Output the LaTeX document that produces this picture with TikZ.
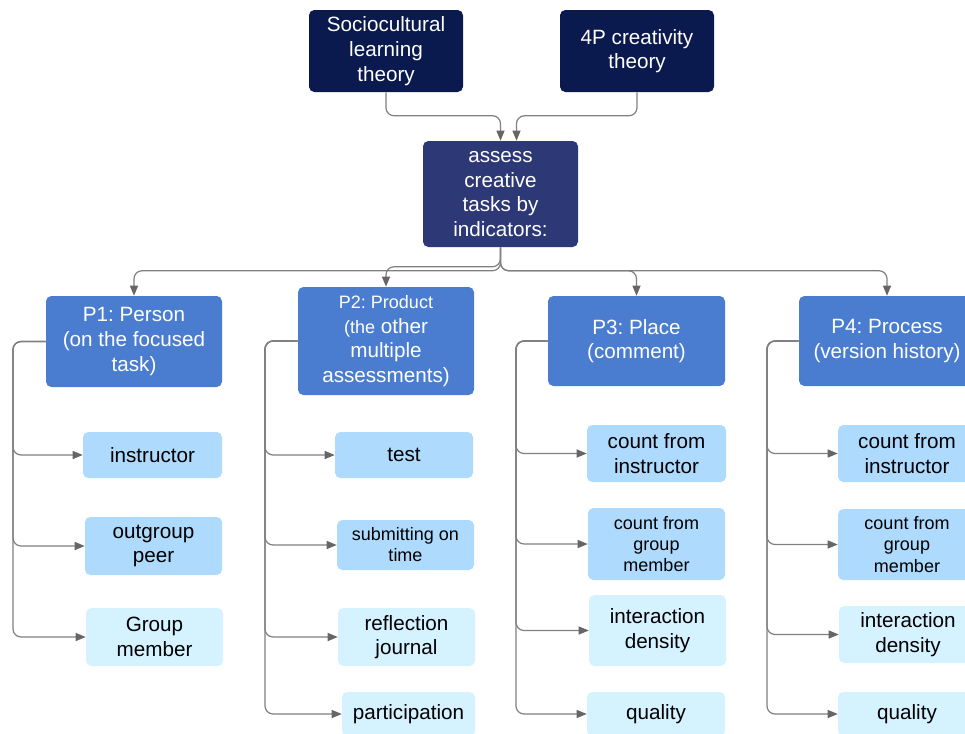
\documentclass[tikz,border=0pt]{standalone}
\usepackage{fontspec}
\setmainfont{Liberation Sans}
\frenchspacing
\usetikzlibrary{arrows.meta}
\definecolor{navy}{HTML}{0B1A4E}
\definecolor{assessc}{HTML}{2D3877}
\definecolor{pblue}{HTML}{4A7DCF}
\definecolor{lblue}{HTML}{ADDAFD}
\definecolor{pale}{HTML}{D4F2FF}
\definecolor{lineg}{HTML}{808080}
\definecolor{tipg}{HTML}{666666}
\tikzset{
  sz/.style 2 args={minimum width=#1*0.75pt, minimum height=#2*0.75pt},
  box/.style={rounded corners=4pt, align=center, inner sep=0pt,
    font=\fontsize{15.5}{18.5}\selectfont\frenchspacing},
  darkbox/.style={box, fill=navy, text=white},
  midbox/.style={box, fill=assessc, text=white},
  pbox/.style={box, fill=pblue, text=white},
  lbox/.style={box, fill=lblue, text=black},
  palebox/.style={box, fill=pale, text=black},
  smalltext/.style={font=\fontsize{13.5}{15.8}\selectfont},
  conn/.style={draw=lineg, line width=0.9pt, rounded corners=6pt,
    -{Triangle[length=7.5pt,width=6pt,fill=tipg,color=tipg]}},
}
\begin{document}
\begin{tikzpicture}[x=0.75pt, y=-0.75pt]
\useasboundingbox (0,0) rectangle (965,733);
\clip (0,0) rectangle (965,733);
\fill[white] (0,0) rectangle (965,733);

% top
\node[darkbox, sz={154}{82}] (soc) at (386,51) {Sociocultural\\learning\\theory};
\node[darkbox, sz={154}{82}] (fp) at (637,51) {4P creativity\\theory};
\node[midbox, sz={155}{106}] (assess) at (500.5,194) {assess\\creative\\tasks by\\indicators:};

% P boxes
\node[pbox, sz={176}{91}] (p1) at (134,341.5) {P1: Person\\(on the focused\\task)};
\node[pbox, sz={176}{108}] (p2) at (386,341) {{\fontsize{13.5}{18.5}\selectfont P2: Product}\\{\fontsize{13.5}{18.5}\selectfont (the} other\\multiple\\assessments)};
\node[pbox, sz={177}{90}] (p3) at (636.5,341) {P3: Place\\(comment)};
\node[pbox, sz={176}{90}] (p4) at (887,341) {P4: Process\\(version history)};

% P1 children
\node[lbox, sz={139}{46}] (p1a) at (152.5,455) {instructor};
\node[lbox, sz={137}{58}] (p1b) at (153.5,546) {outgroup\\peer};
\node[palebox, sz={137}{58}] (p1c) at (154.5,637) {Group\\member};

% P2 children
\node[lbox, sz={138}{46}] (p2a) at (404,455) {test};
\node[lbox, smalltext, sz={137}{50}] (p2b) at (405.5,545) {submitting on\\time};
\node[palebox, sz={137}{58}] (p2c) at (406.5,637) {reflection\\journal};
\node[palebox, sz={133}{44}] (p2d) at (408.5,714) {participation};

% P3 children
\node[lbox, sz={139}{57}] (p3a) at (656.5,453.5) {count from\\instructor};
\node[lbox, smalltext, sz={137}{72}] (p3b) at (656.5,544) {count from\\group\\member};
\node[palebox, sz={137}{71}] (p3c) at (657.5,630.5) {interaction\\density};
\node[palebox, sz={138}{44}] (p3d) at (656,714) {quality};

% P4 children
\node[lbox, sz={138}{57}] (p4a) at (907,453.5) {count from\\instructor};
\node[lbox, smalltext, sz={138}{71}] (p4b) at (907,544.5) {count from\\group\\member};
\node[palebox, sz={138}{57}] (p4c) at (908,634.5) {interaction\\density};
\node[palebox, sz={138}{44}] (p4d) at (907,714) {quality};

% top connectors
\draw[conn] (soc.south) |- ([yshift=18.75pt]assess.north) -- (assess.north);
\draw[conn] (fp.south) |- ([xshift=12pt,yshift=18.75pt]assess.north) -- ([xshift=12pt]assess.north);

% assess to P
\draw[conn] (assess.south) |- ([yshift=18.75pt]p1.north) -- (p1.north);
\draw[conn] (assess.south) |- ([yshift=15pt]p2.north) -- (p2.north);
\draw[conn] (assess.south) |- ([yshift=18.75pt]p3.north) -- (p3.north);
\draw[conn] (assess.south) |- ([yshift=18.75pt]p4.north) -- (p4.north);

% brackets
\coordinate (p1l) at (13,341.5);
\coordinate (p2l) at (265,341);
\coordinate (p3l) at (516,341);
\coordinate (p4l) at (767,341);
\foreach \c in {p1a,p1b,p1c} \draw[conn] (p1.west) -- (p1l) |- (\c.west);
\foreach \c in {p2a,p2b,p2c,p2d} \draw[conn] (p2.west |- p2l) -- (p2l) |- (\c.west);
\foreach \c in {p3a,p3b,p3c,p3d} \draw[conn] (p3.west) -- (p3l) |- (\c.west);
\foreach \c in {p4a,p4b,p4c,p4d} \draw[conn] (p4.west) -- (p4l) |- (\c.west);
\end{tikzpicture}
\end{document}
